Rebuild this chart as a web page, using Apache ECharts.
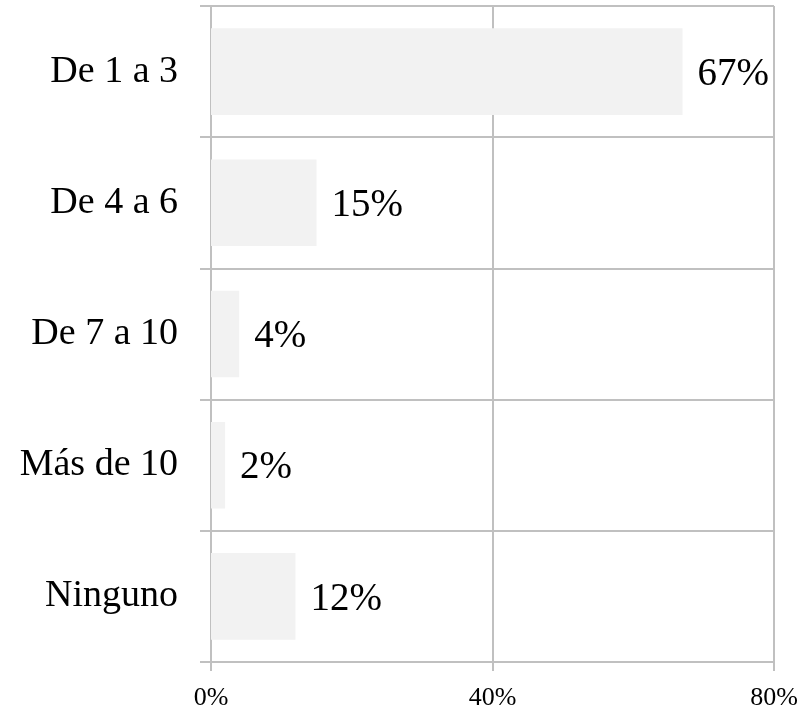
<!DOCTYPE html>
<html>
<head>
<meta charset="utf-8">
<script src="https://cdn.jsdelivr.net/npm/echarts@6/dist/echarts.min.js"></script>
<style>
  html, body { margin: 0; padding: 0; background: #fff; }
  #chart { width: 802px; height: 711px; }
</style>
</head>
<body>
<div id="chart"></div>
<script>
  const categories = ['De 1 a 3', 'De 4 a 6', 'De 7 a 10', 'Más de 10', 'Ninguno'];
  const values = [67, 15, 4, 2, 12];
  const xTicks = [0, 40, 80];

  const lineColor = '#c0c0c0';
  const font = '"Liberation Serif", "DejaVu Serif", serif';

  const chart = echarts.init(document.getElementById('chart'));
  chart.setOption({
    animation: false,
    textStyle: { fontFamily: font, color: '#000' },
    grid: { left: 211, right: 28, top: 6, bottom: 49, containLabel: false },
    xAxis: {
      type: 'value',
      min: xTicks[0],
      max: xTicks[xTicks.length - 1],
      interval: 40,
      axisLine: { show: true, lineStyle: { color: lineColor, width: 2 } },
      axisTick: { show: true, length: 9, lineStyle: { color: lineColor, width: 2 } },
      splitLine: { show: true, lineStyle: { color: lineColor, width: 2 } },
      axisLabel: {
        margin: 23,
        fontSize: 26,
        color: '#000',
        fontFamily: font,
        formatter: v => v + '%'
      }
    },
    yAxis: {
      type: 'category',
      data: categories,
      inverse: true,
      axisLine: { show: true, lineStyle: { color: lineColor, width: 2 } },
      axisTick: { show: true, length: 11, interval: 0, lineStyle: { color: lineColor, width: 2 } },
      splitLine: { show: true, interval: 0, lineStyle: { color: lineColor, width: 2 } },
      axisLabel: {
        margin: 33,
        fontSize: 38,
        color: '#000',
        fontFamily: font
      }
    },
    series: [{
      type: 'bar',
      data: values,
      barCategoryGap: '34%',
      itemStyle: { color: '#f2f2f2' },
      label: {
        show: true,
        position: 'right',
        distance: 15,
        offset: [0, 3],
        fontSize: 39,
        color: '#000',
        fontFamily: font,
        formatter: p => p.value + '%'
      }
    }]
  });
</script>
</body>
</html>
